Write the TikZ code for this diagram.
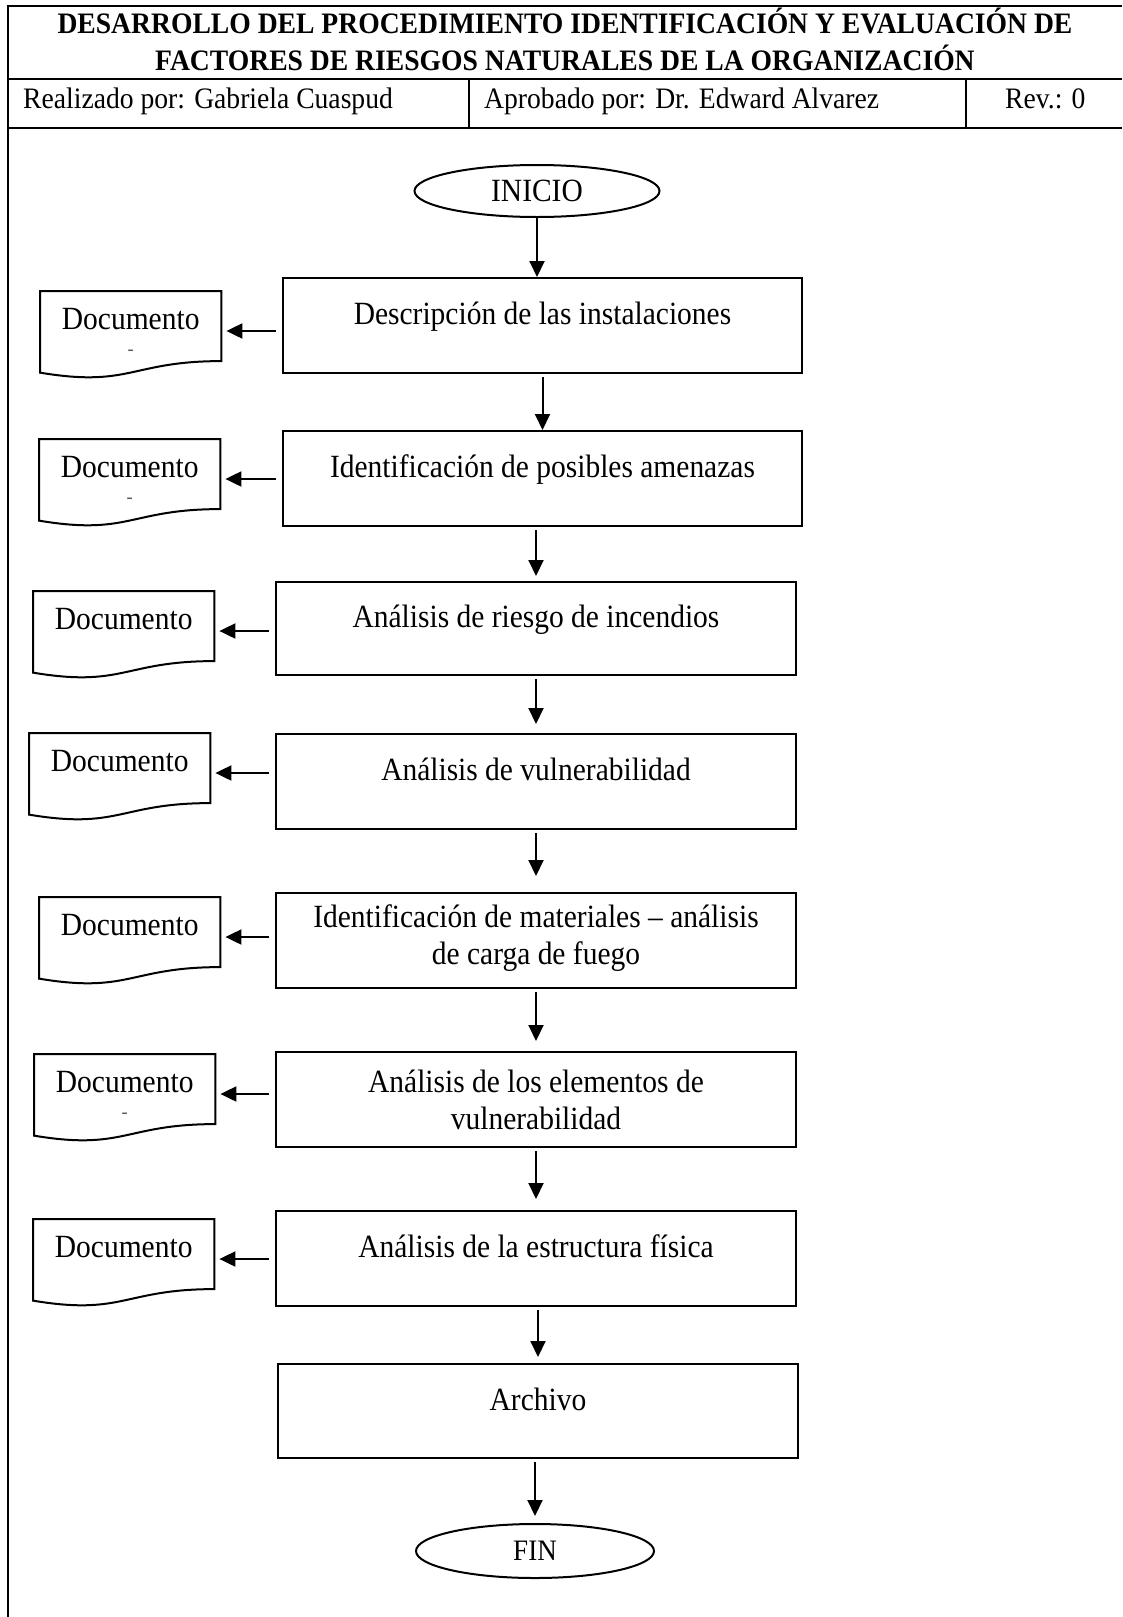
\documentclass[tikz,border=0pt]{standalone}
\usepackage{fontspec}
\setmainfont{Liberation Serif}[FakeStretch=0.91]
\newfontfamily\hdrfont{Liberation Serif}[FakeStretch=0.93]
\usetikzlibrary{shapes.geometric,arrows.meta,calc}

\begin{document}
\begin{tikzpicture}[x=1pt,y=-1pt,
  thickrule/.style={line width=2.5pt},
  thinrule/.style={line width=1.1pt},
  hdr/.style={inner sep=0pt, font={\hdrfont\fontsize{29.7}{37}\selectfont}},
  proc/.style={draw, line width=2pt, minimum width=520pt, minimum height=95pt,
    inner sep=0pt, align=center, font={\fontsize{32.4}{37}\selectfont}},
  oneline/.style={text height=22pt, text depth=24pt},
  term/.style={draw, ellipse, line width=2pt, inner sep=0pt},
  doc/.style={anchor=north west, minimum width=181pt, minimum height=87pt,
    inner sep=0pt, text height=19pt, text depth=29pt,
    font={\fontsize{32.4}{37}\selectfont}},
  docline/.style={line width=2pt},
  dashmark/.style={inner sep=0pt, text=black!65, font={\fontsize{20}{20}\selectfont}},
  arr/.style={line width=2pt, -{Triangle[length=16pt,width=15pt]}},
]
\useasboundingbox (0,0) rectangle (1122,1617);

% header table
\draw[thickrule] (8,6) -- (1122,6);
\draw[thinrule] (8,79) -- (1122,79);
\draw[thickrule] (8,128) -- (1122,128);
\draw[thinrule] (469,79) -- (469,128);
\draw[thinrule] (966,79) -- (966,128);
\draw[thickrule] (8,4.75) -- (8,1617);

\node[hdr, font={\hdrfont\fontsize{29.7}{37}\selectfont\bfseries}, align=center, anchor=base] (title) at (565,70)
  {DESARROLLO DEL PROCEDIMIENTO IDENTIFICACIÓN Y EVALUACIÓN DE\\FACTORES DE RIESGOS NATURALES DE LA ORGANIZACIÓN};
\node[hdr, anchor=base west] (made) at (23,108) {Realizado por: Gabriela Cuaspud};
\node[hdr, anchor=base west] (appr) at (484,108) {Aprobado por: Dr. Edward Alvarez};
\node[hdr, anchor=base west] (rev) at (1005,108) {Rev.: 0};

% flowchart terminals
\node[term, minimum width=245pt, minimum height=52pt, font={\fontsize{32.4}{37}\selectfont}] (ini) at (537,191) {INICIO};
\node[term, minimum width=238pt, minimum height=54pt, font={\fontsize{29.7}{37}\selectfont}] (fin) at (535,1551) {FIN};

% process steps
\node[proc, oneline, minimum width=519pt] (b1) at (542.5,325.5) {Descripción de las instalaciones};
\node[proc, oneline, minimum width=519pt] (b2) at (542.5,478.5) {Identificación de posibles amenazas};
\node[proc, oneline, minimum height=93pt] (b3) at (536,628.5) {Análisis de riesgo de incendios};
\node[proc, oneline] (b4) at (536,781.5) {Análisis de vulnerabilidad};
\node[proc, text depth=11pt] (b5) at (536,940.5) {Identificación de materiales – análisis\\de carga de fuego};
\node[proc] (b6) at (536,1099.5) {Análisis de los elementos de\\vulnerabilidad};
\node[proc, oneline] (b7) at (536,1258.5) {Análisis de la estructura física};
\node[proc, oneline, minimum height=94pt] (b8) at (538,1411) {Archivo};

% documents
\node[doc] (d1) at (40,291) {Documento};
\node[doc] (d2) at (39,439) {Documento};
\node[doc] (d3) at (33,591) {Documento};
\node[doc] (d4) at (29,733) {Documento};
\node[doc] (d5) at (39,897) {Documento};
\node[doc] (d6) at (34,1054) {Documento};
\node[doc] (d7) at (33,1219) {Documento};

\foreach \i in {1,...,7}{
  \draw[docline] (d\i.north west) -- (d\i.north east)
    -- ($(d\i.north east)!0.802!(d\i.south east)$)
    .. controls ($(d\i.north)!0.802!(d\i.south)$) and ($(d\i.north)!1.1075!(d\i.south)$)
    .. ($(d\i.north west)!0.934!(d\i.south west)$) -- cycle;
  \coordinate (a\i) at ($(d\i.north east)+(0,40)$);
  \draw[arr, shorten <=6pt, shorten >=5pt] (b\i.west |- a\i) -- (a\i);
}

\node[dashmark] (m1) at ($(d1.north)+(0,62)$) {-};
\node[dashmark] (m2) at ($(d2.north)+(0,62)$) {-};
\node[dashmark] (m6) at ($(d6.north)+(0,62)$) {-};

% main flow
\draw[arr] (ini.south) -- (ini.south |- b1.north);
\draw[arr, shorten <=3pt] (b1.south) -- (b2.north);
\draw[arr, shorten <=3pt, shorten >=5pt] (b2.south -| b3.north) -- (b3.north);
\draw[arr, shorten <=3pt, shorten >=9pt] (b3.south -| b4.north) -- (b4.north);
\draw[arr, shorten <=3pt, shorten >=16pt] (b4.south -| b5.north) -- (b5.north);
\draw[arr, shorten <=3pt, shorten >=10pt] (b5.south -| b6.north) -- (b6.north);
\draw[arr, shorten <=3pt, shorten >=11pt] (b6.south -| b7.north) -- (b7.north);
\draw[arr, shorten <=3pt, shorten >=6pt] (b7.south -| b8.north) -- (b8.north);
\draw[arr, shorten <=3pt, shorten >=7pt] (b8.south -| fin.north) -- (fin.north);
\end{tikzpicture}
\end{document}
